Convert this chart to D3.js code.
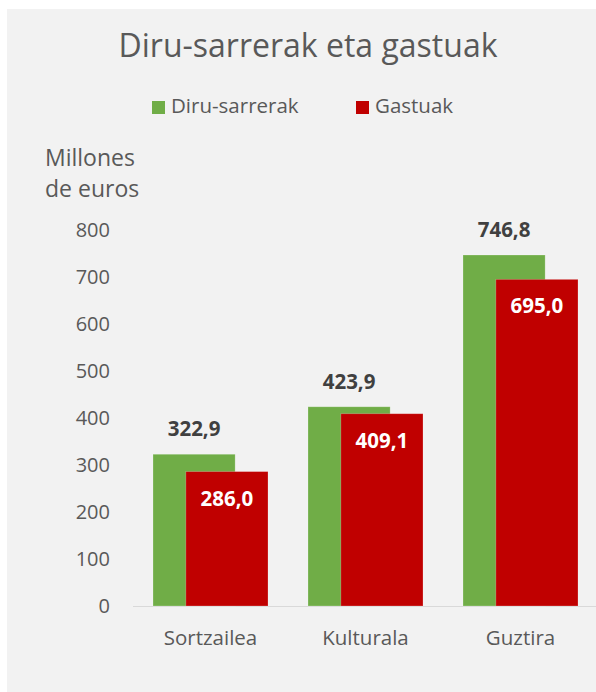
<!DOCTYPE html>
<html>
<head>
<meta charset="utf-8">
<script src="https://cdn.jsdelivr.net/npm/d3@7"></script>
<style>
  html, body { margin: 0; padding: 0; background: #fff; }
  svg { display: block; }
  text { font-family: "Open Sans", sans-serif; }
</style>
</head>
<body>
<svg id="chart"></svg>
<script>
const categories = ["Sortzailea", "Kulturala", "Guztira"];
const seriesNames = ["Diru-sarrerak", "Gastuak"];
const income = [322.9, 423.9, 746.8];
const expenses = [286.0, 409.1, 695.0];
const yTicks = [0, 100, 200, 300, 400, 500, 600, 700, 800];
const colors = ["#70ad47", "#c00000"];

const W = 596, H = 692;
const svg = d3.select("#chart").attr("width", W).attr("height", H);

// panel
svg.append("rect").attr("x", 7).attr("y", 9).attr("width", W - 7).attr("height", H - 9).attr("fill", "#f2f2f2");

const y = d3.scaleLinear().domain([0, 800]).range([606, 230]);
const x = d3.scaleBand().domain(categories).range([133, 598]);
const bw = x.bandwidth() * 0.53;
const shift = bw * 0.4;
const fmt = v => v.toFixed(1).replace(".", ",");

// title
svg.append("text").attr("x", 308).attr("y", 57).attr("text-anchor", "middle")
  .attr("font-size", 32).attr("fill", "#595959").text("Diru-sarrerak eta gastuak");

// legend
const legendX = [152, 356];
seriesNames.forEach((s, i) => {
  svg.append("rect").attr("x", legendX[i]).attr("y", 101).attr("width", 13).attr("height", 13).attr("fill", colors[i]);
  svg.append("text").attr("x", legendX[i] + 19).attr("y", 113).attr("font-size", 20.5).attr("fill", "#595959").text(s);
});

// y label
svg.append("text").attr("x", 45).attr("y", 166).attr("font-size", 23).attr("fill", "#595959").text("Millones");
svg.append("text").attr("x", 45).attr("y", 197).attr("font-size", 23).attr("fill", "#595959").text("de euros");

// y axis
const yAxis = svg.append("g").attr("transform", "translate(110,0)")
  .call(d3.axisLeft(y).tickValues(yTicks).tickSize(0).tickPadding(0).tickFormat(d3.format("d")));
yAxis.select(".domain").remove();
yAxis.selectAll("text").attr("font-size", 20).attr("fill", "#595959").style("font-family", null);

// baseline
svg.append("line").attr("x1", 133).attr("x2", 596).attr("y1", y(0) + 0.5).attr("y2", y(0) + 0.5)
  .attr("stroke", "#d9d9d9").attr("stroke-width", 1);

// x labels
const xAxis = svg.append("g").attr("transform", `translate(0,${y(0)})`)
  .call(d3.axisBottom(x).tickSize(0).tickPadding(24));
xAxis.select(".domain").remove();
xAxis.selectAll("text").attr("font-size", 20.5).attr("fill", "#595959").style("font-family", null);

// bars
const groups = svg.append("g").selectAll("g").data(categories).join("g");
const left = c => x(c) + (x.bandwidth() - bw - shift) / 2;

groups.append("rect")
  .attr("x", c => left(c)).attr("width", bw)
  .attr("y", (c, i) => y(income[i])).attr("height", (c, i) => y(0) - y(income[i]))
  .attr("fill", colors[0]).attr("stroke", "#ffffff").attr("stroke-opacity", 0.3).attr("stroke-width", 0.75);

groups.append("rect")
  .attr("x", c => left(c) + shift).attr("width", bw)
  .attr("y", (c, i) => y(expenses[i])).attr("height", (c, i) => y(0) - y(expenses[i]))
  .attr("fill", colors[1]).attr("stroke", "#ffffff").attr("stroke-opacity", 0.3).attr("stroke-width", 0.75);

groups.append("text")
  .attr("x", c => left(c) + bw / 2).attr("y", (c, i) => y(income[i]) - 18)
  .attr("text-anchor", "middle").attr("font-size", 20.5).attr("font-weight", "bold").attr("fill", "#404040")
  .text((c, i) => fmt(income[i]));

groups.append("text")
  .attr("x", c => left(c) + shift + bw / 2).attr("y", (c, i) => y(expenses[i]) + 34)
  .attr("text-anchor", "middle").attr("font-size", 20.5).attr("font-weight", "bold").attr("fill", "#fff")
  .text((c, i) => fmt(expenses[i]));
</script>
</body>
</html>
